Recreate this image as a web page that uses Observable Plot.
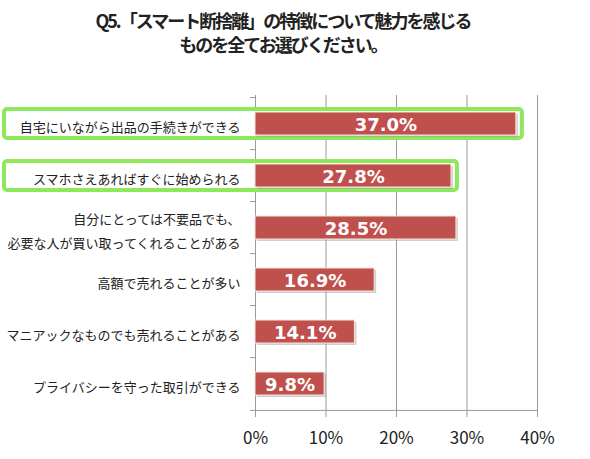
<!DOCTYPE html>
<html lang="ja">
<head>
<meta charset="utf-8">
<script src="https://cdn.jsdelivr.net/npm/d3@7"></script>
<script src="https://cdn.jsdelivr.net/npm/@observablehq/plot@0.6"></script>
<style>
  html, body { margin: 0; padding: 0; background: #fff; }
  body { width: 590px; height: 459px; overflow: hidden; font-family: "Noto Sans CJK JP", "Noto Sans", sans-serif; }
  #title {
    height: 62px; box-sizing: border-box; padding-top: 8px;
    width: 566px; text-align: center; font-weight: bold; font-size: 18px; line-height: 24px;
    letter-spacing: -2px; color: #222;
  }
  #chart svg { display: block; }
</style>
</head>
<body>
<div id="title">Q5.「スマート断捨離」の特徴について魅力を感じる<br>ものを全てお選びください。</div>
<div id="chart"></div>
<script>
// 回答項目(上から順)
const items = [
  "自宅にいながら出品の手続きができる",
  "スマホさえあればすぐに始められる",
  "自分にとっては不要品でも、\n必要な人が買い取ってくれることがある",
  "高額で売れることが多い",
  "マニアックなものでも売れることがある",
  "プライバシーを守った取引ができる"
];
// 選択率(%)
const shares = [37.0, 27.8, 28.5, 16.9, 14.1, 9.8];
// 強調する項目
const highlighted = [
  "自宅にいながら出品の手続きができる",
  "スマホさえあればすぐに始められる"
];
// 横軸の目盛り
const xTicks = [0, 10, 20, 30, 40];

const rows = items.map((item, i) => ({item, share: shares[i], hl: highlighted.includes(item)}));

const width = 590, height = 397;
const marginTop = 33, marginBottom = 47, marginLeft = 255, marginRight = 53;
const step = (height - marginTop - marginBottom) / items.length;

const red = "#c0504d";
const green = "#8de85a";
const grid = "#9a9a9a";

const chart = Plot.plot({
  width, height, marginTop, marginBottom, marginLeft, marginRight,
  style: {fontFamily: "'Noto Sans CJK JP', 'Noto Sans', sans-serif", background: "#fff"},
  x: {domain: [0, 40], ticks: xTicks, tickFormat: d => d + "%"},
  y: {domain: items, paddingInner: 0.55, paddingOuter: 0.275, axis: null},
  marks: [
    // 縦のグリッド線
    Plot.ruleX(xTicks.slice(1), {stroke: grid, strokeWidth: 1}),
    // 縦軸・横軸の線
    Plot.ruleX([0], {stroke: grid, strokeWidth: 1}),
    Plot.ruleY([items[items.length - 1]], {dy: step / 2, x1: 0, x2: 40, stroke: grid}),
    // 縦軸の目盛り(区切り位置)
    Plot.ruleY(items, {dy: -step / 2, x1: 0, x2: 0, insetLeft: -5, stroke: grid}),
    Plot.ruleY([items[items.length - 1]], {dy: step / 2, x1: 0, x2: 0, insetLeft: -5, stroke: grid}),
    // 横軸の目盛り
    Plot.axisX({ticks: xTicks, tickFormat: d => d + "%", tickSize: 5, tickPadding: 14,
      fontSize: 17, stroke: grid, fill: "#222", label: null}),
    // 強調枠
    Plot.barX(rows.filter(d => d.hl), {
      x1: 0, x2: "share", y: "item",
      insetLeft: -251, insetRight: -6, insetTop: -3, insetBottom: -3,
      fill: "#fff", stroke: green, strokeWidth: 4, rx: 3
    }),
    // 棒の影
    Plot.barX(rows, {x: "share", y: "item", dx: 2, dy: 2, fill: "#9a9a9a", fillOpacity: 0.45}),
    // 棒
    Plot.barX(rows, {x: "share", y: "item", fill: red, stroke: "#f5e6d8", strokeWidth: 1}),
    // 棒の中の数値
    Plot.text(rows, {x: d => d.share / 2, y: "item", text: d => d.share.toFixed(1) + "%",
      fill: "#fff", fontSize: 18, fontWeight: "bold", fontFamily: "'DejaVu Sans', sans-serif", dy: 1}),
    // 項目名
    Plot.text(rows, {x: 0, y: "item", text: "item", textAnchor: "end", dx: -15,
      fontSize: 13, lineHeight: 1.85, fill: "#222"})
  ]
});

document.getElementById("chart").appendChild(chart);
</script>
</body>
</html>
